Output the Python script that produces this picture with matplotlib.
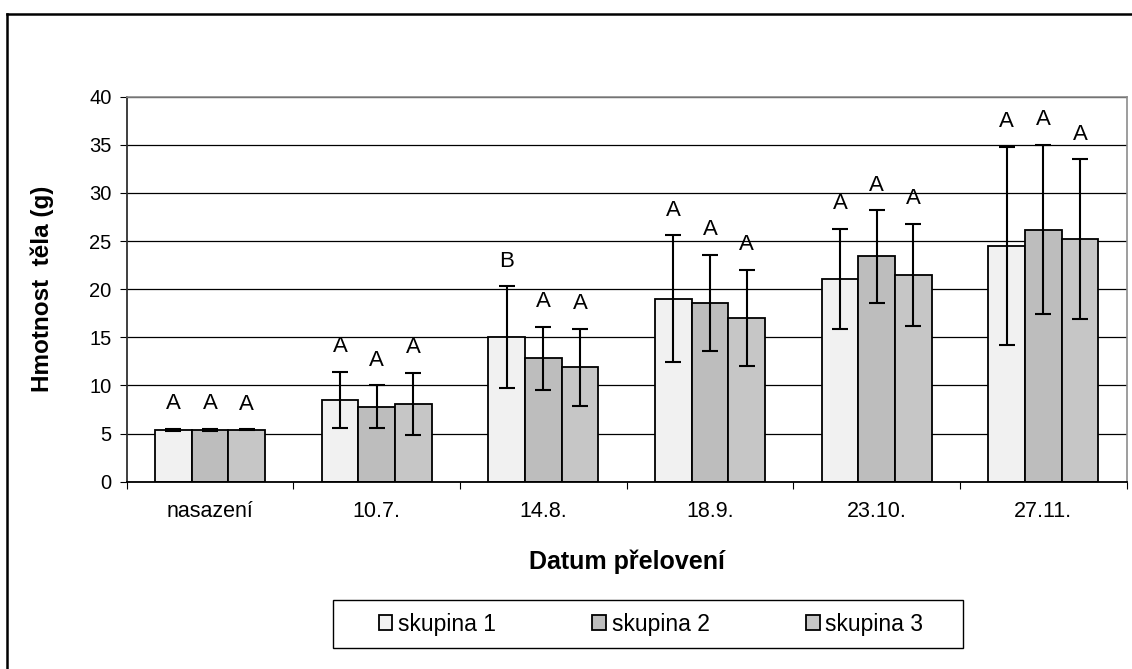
import numpy as np
import matplotlib
matplotlib.use("Agg")
import matplotlib.pyplot as plt
from matplotlib.lines import Line2D
from matplotlib.patches import Rectangle

plt.rcParams['font.family'] = ['Liberation Sans', 'DejaVu Sans']

categories = ['nasazení', '10.7.', '14.8.', '18.9.', '23.10.', '27.11.']
series = ['skupina 1', 'skupina 2', 'skupina 3']
means1 = [5.4, 8.5, 15.0, 19.0, 21.1, 24.5]
means2 = [5.4, 7.8, 12.8, 18.6, 23.4, 26.2]
means3 = [5.4, 8.1, 11.9, 17.0, 21.5, 25.2]
sd1 = [0.1, 2.9, 5.3, 6.6, 5.2, 10.3]
sd2 = [0.1, 2.2, 3.3, 5.0, 4.8, 8.8]
sd3 = [0.05, 3.2, 4.0, 5.0, 5.3, 8.3]
letters1 = ['A', 'A', 'B', 'A', 'A', 'A']
letters2 = ['A', 'A', 'A', 'A', 'A', 'A']
letters3 = ['A', 'A', 'A', 'A', 'A', 'A']

colors = ['#f1f1f1', '#bdbdbd', '#c6c6c6']

W, H = 1132, 669
fig = plt.figure(figsize=(W / 100, H / 100), dpi=100)
ax = fig.add_axes([126.7 / W, 1 - 481.7 / H, 1000 / W, 385 / H])

x = np.arange(len(categories))
w = 0.22
for k, (m, s, lab) in enumerate(zip([means1, means2, means3], [sd1, sd2, sd3],
                                    [letters1, letters2, letters3])):
    xs = x + (k - 1) * w
    ax.bar(xs, m, w, color=colors[k], edgecolor='black', linewidth=1.3,
           label=series[k], zorder=2)
    ax.errorbar(xs, m, yerr=s, fmt='none', ecolor='black', elinewidth=1.5,
                capsize=5.8, capthick=1.5, zorder=3)
    for xi, mi, si, li in zip(xs, m, s, lab):
        ax.text(xi, mi + si + 2.6, li, ha='center', va='center', fontsize=16)

ax.set_xlim(-0.5, len(categories) - 0.5)
ax.set_ylim(0, 40)
ax.set_yticks(np.arange(0, 41, 5))
ax.yaxis.grid(True, color='black', linewidth=0.9, zorder=0)
ax.set_axisbelow(True)

ax.set_xticks(np.arange(-0.5, len(categories), 1))
ax.set_xticklabels([])
ax.set_xticks(x, minor=True)
ax.set_xticklabels(categories, minor=True)
ax.tick_params(axis='x', which='minor', length=0, pad=14, labelsize=15.5)
ax.tick_params(axis='x', which='major', length=5, direction='out', color='black')
ax.tick_params(axis='y', length=5, direction='out', labelsize=14.5, pad=6)

for sp in ['top', 'right']:
    ax.spines[sp].set_color('#8c8c8c')
    ax.spines[sp].set_linewidth(1.2)
ax.spines['left'].set_color('#303030')
ax.spines['left'].set_linewidth(1.3)
ax.spines['bottom'].set_color('black')
ax.spines['bottom'].set_linewidth(1.3)

ax.set_xlabel('Datum přelovení', fontsize=18, fontweight='bold', va='top')
ax.xaxis.set_label_coords(0.5, -0.176)
ax.set_ylabel('Hmotnost  těla (g)', fontsize=17.5, fontweight='bold')
ax.yaxis.set_label_coords(-0.073, 0.5)

leg = fig.legend(loc='center', bbox_to_anchor=(651 / W, 1 - 624 / H), ncol=3,
                 fontsize=16.5, frameon=False,
                 handlelength=0.6, handleheight=0.6, handletextpad=0.25,
                 columnspacing=4.2)
fig.add_artist(Rectangle((333 / W, 1 - 648 / H), 630 / W, 48 / H,
                         transform=fig.transFigure, fill=False,
                         edgecolor='black', linewidth=1.0))

fig.add_artist(Line2D([7 / W, 7 / W], [0, 1 - 14 / H], color='black', lw=1.8))
fig.add_artist(Line2D([7 / W, 1], [1 - 14 / H, 1 - 14 / H], color='black', lw=1.8))

fig.savefig('out.png', dpi=100)
